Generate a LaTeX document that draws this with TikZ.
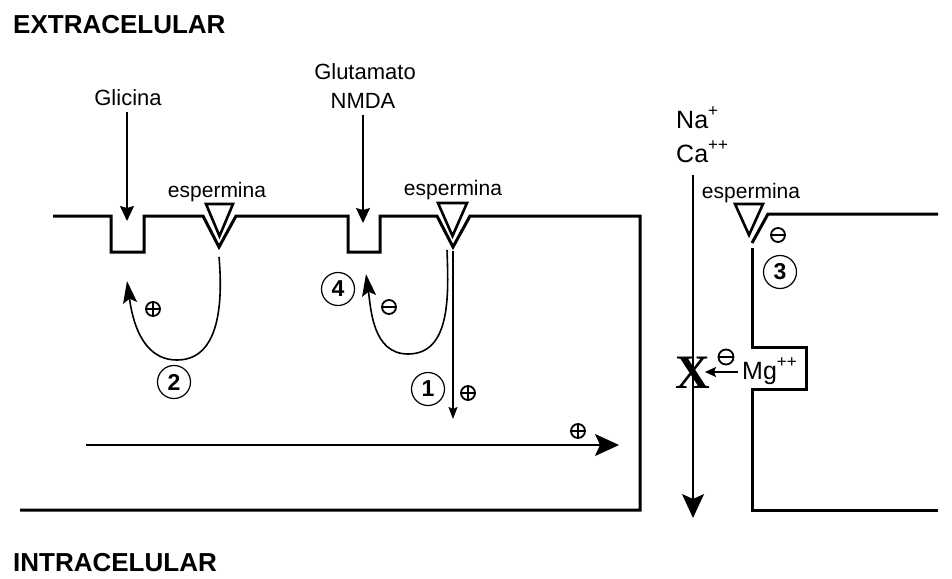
\documentclass[tikz,border=0pt]{standalone}
\usepackage{fontspec}
\setmainfont{Liberation Sans}
\newfontfamily\serifx{Liberation Serif}
\usetikzlibrary{arrows.meta}
\tikzset{
  membrane/.style={line width=3pt, line join=miter, line cap=butt},
  recep/.style={line width=2.6pt, line join=miter},
  arr/.style={line width=1.6pt, -{Stealth[length=15pt,width=14pt,inset=2pt]}},
  bigarr/.style={line width=1.6pt, -{Stealth[length=24pt,width=22pt,inset=5pt]}},
  smallarr/.style={line width=1.6pt, -{Stealth[length=12pt,width=9pt,inset=2pt]}},
  arcarr/.style={line width=1.6pt, -{Stealth[length=22pt,width=14pt,inset=4pt]}},
  title/.style={font=\bfseries\fontsize{26}{26}\selectfont, inner sep=0pt, anchor=west},
  lbl/.style={font=\fontsize{22}{24}\selectfont, inner sep=0pt},
  ion/.style={font=\fontsize{25}{26}\selectfont, inner sep=0pt, anchor=base west},
  esp/.style={font=\fontsize{21}{22}\selectfont, inner sep=0pt, anchor=base},
  num/.style={circle, draw, line width=1.2pt, minimum size=33pt, inner sep=0pt, font=\bfseries\fontsize{23}{23}\selectfont},
  psign/.style={circle, draw, line width=1.8pt, minimum size=14pt, inner sep=0pt,
    path picture={\draw[line width=1.1pt] (path picture bounding box.west) -- (path picture bounding box.east)
      (path picture bounding box.north) -- (path picture bounding box.south);}},
  msign/.style={circle, draw, line width=1.8pt, minimum size=14pt, inner sep=0pt,
    path picture={\draw[line width=1.4pt] (path picture bounding box.west) -- (path picture bounding box.east);}},
}
\newcommand{\ionsup}[1]{\raisebox{0.45em}{\fontsize{17}{17}\selectfont #1}}
\begin{document}
\begin{tikzpicture}[x=1pt,y=-1pt]
\useasboundingbox (0,0) rectangle (952,578);

% titles
\node[title] (ext) at (13,25) {EXTRACELULAR};
\node[title] (int) at (13,563) {INTRACELULAR};

% left cell membrane
\draw[membrane] (53,216) -- (111,216) -- (111,252) -- (144,252) -- (144,216)
  -- (203,216) -- (219,247) -- (236,216)
  -- (348,216) -- (348,252) -- (380,252) -- (380,216)
  -- (437,216) -- (453,247) -- (470,216)
  -- (640,216) -- (640,510) -- (20,510);

% receptor triangles (espermina sites)
\draw[recep] (206,204) -- (233,204) -- (219.5,236) -- cycle;
\draw[recep] (438,203) -- (467,203) -- (452.5,236) -- cycle;
\draw[recep] (735,204) -- (763,204) -- (749,235) -- cycle;

% right cell membrane
\draw[membrane] (938,214) -- (768,214) -- (752,243);
\draw[membrane] (752,248) -- (752,347) -- (806,347) -- (806,389) -- (752,389) -- (752,510) -- (938,510);

% labels
\node[lbl] (glic) at (128,98) {Glicina};
\node[lbl] (glut) at (365,72) {Glutamato};
\node[lbl] (nmda) at (363,101) {NMDA};
\node[esp] (esp1) at (217,197) {espermina};
\node[esp] (esp2) at (453,195) {espermina};
\node[esp] (esp3) at (751,198) {espermina};
\node[ion] (na) at (676,128) {Na\ionsup{+}};
\node[ion] (ca) at (676,162) {Ca\ionsup{++}};
\node[ion] (mg) at (742,379) {Mg\ionsup{++}};
\node[font=\serifx\bfseries\fontsize{48}{48}\selectfont, inner sep=0pt] (xx) at (693,373) {X};

% agonist arrows
\coordinate (glicA) at (127,112);
\coordinate (glicB) at (127,221);
\coordinate (glutA) at (363,115);
\coordinate (glutB) at (363,223);
\draw[arr] (glicA) -- (glicB);
\draw[arr] (glutA) -- (glutB);

% ion flow arrow
\coordinate (ionA) at (693,175);
\coordinate (ionB) at (693,518);
\draw[bigarr] (ionA) -- (ionB);

% Mg block arrow
\coordinate (mgA) at (738,372);
\coordinate (mgB) at (705,372);
\draw[line width=1.6pt, -{Stealth[length=11pt,width=10pt,inset=2pt]}] (mgA) -- (mgB);
\node[msign, minimum size=15pt] (mgm) at (726,357) {};

% curved arrows 2 and 4
\coordinate (a2s) at (219,257);
\coordinate (a2b) at (177,360);
\coordinate (a2e) at (127,281);
\draw[arcarr] (a2s) to[out=-85,in=0] (a2b) to[out=180,in=-82] (a2e);
\coordinate (a4s) at (447,250);
\coordinate (a4b) at (408,354);
\coordinate (a4e) at (366,274);
\draw[arcarr] (a4s) to[out=-88,in=0] (a4b) to[out=180,in=-82] (a4e);

% arrow 1
\coordinate (a1s) at (453,251);
\coordinate (a1e) at (453,419);
\draw[smallarr] (a1s) -- (a1e);

% horizontal arrow
\coordinate (hA) at (86,445);
\coordinate (hB) at (619,445);
\draw[bigarr] (hA) -- (hB);

% circled numbers
\node[num] (n2) at (174,382) {2};
\node[num] (n4) at (338,289) {4};
\node[num] (n1) at (428,389) {1};
\node[num] (n3) at (780,272) {3};

% signs
\node[psign] (s2) at (153,309) {};
\node[msign] (s4) at (389,307) {};
\node[psign] (s1) at (468,393) {};
\node[psign] (sh) at (578,431) {};
\node[msign] (s3) at (778,235) {};
\end{tikzpicture}
\end{document}
